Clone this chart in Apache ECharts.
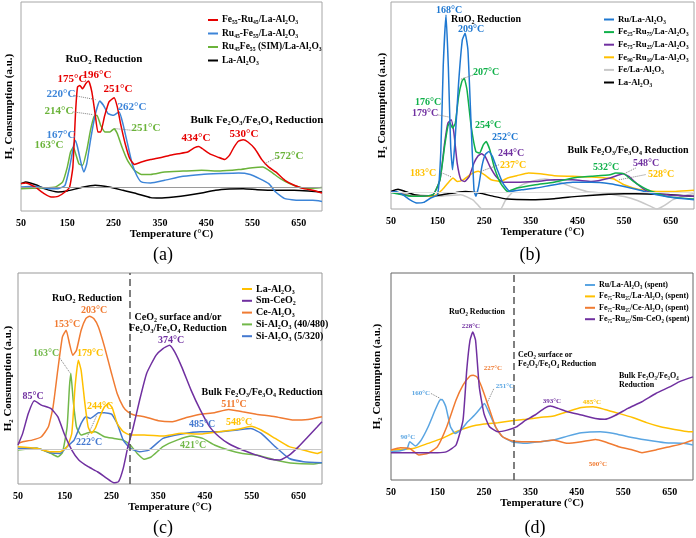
<!DOCTYPE html>
<html>
<head>
<meta charset="utf-8">
<script src="https://cdn.jsdelivr.net/npm/echarts@6/dist/echarts.min.js"></script>
<style>
html, body { margin: 0; padding: 0; background: #fff; }
#main { width: 696px; height: 538px; }
</style>
</head>
<body>
<div id="main"></div>
<script>
// tick labels (same on all four panels)
var tempTicks = [50, 150, 250, 350, 450, 550, 650];

// ---- panel (a) ----
var aFeRu = [[50,13.1],[60,13.4],[80,11.5],[100,8.3],[115,6.7],[130,7.0],[145,9.1],[155,11.5],[162,21],[168,48],[172,59.3],[177,60.1],[183,58.5],[190,61],[196,62.2],[203,57],[210,46.6],[216,37.8],[222,37.8],[230,45],[240,52.2],[251,54.2],[258,49.8],[265,41.8],[275,32.2],[285,25],[295,22.3],[310,23.4],[330,24.6],[350,25.5],[370,26.6],[390,27.4],[410,28.2],[425,30.3],[434,30.9],[445,29.3],[460,27.1],[475,25.8],[490,24.6],[500,26.6],[510,30.6],[520,33.5],[530,34.1],[540,33],[555,29.8],[570,24.6],[585,21],[600,18.7],[620,14.7],[640,12.3],[660,10.7],[680,9.9],[700,8.6]];
var aRuFe = [[50,11.5],[80,11.8],[110,10.7],[130,10.7],[145,12.3],[155,21],[163,30.6],[167,33.8],[172,30.6],[180,22.6],[186,18.7],[192,22.6],[200,33.8],[210,45.8],[220,52.6],[228,50.6],[238,46.6],[250,45.8],[262,47.4],[270,41.8],[280,32.2],[290,22.6],[300,17],[310,13.9],[330,13.4],[360,14.7],[400,16.6],[440,17.5],[480,17.9],[520,18.2],[545,17.5],[565,15.5],[585,13.1],[600,9.1],[620,5.9],[650,5.1],[680,5.1],[700,4.6]];
var aSim = [[50,10.7],[100,11],[125,11.5],[140,13.9],[150,21],[157,28.2],[163,30.6],[168,27.4],[175,22.6],[183,21.9],[192,29],[200,38.6],[208,45.3],[214,45.8],[222,41],[232,37.8],[242,37.8],[251,39.4],[258,37],[268,30.6],[280,24.2],[295,19.5],[310,17.5],[330,17.5],[360,18.7],[400,19.1],[440,19.5],[480,19.1],[520,19.8],[550,20.7],[572,21],[590,18.7],[610,15.5],[630,13.1],[650,11.5],[670,10.7],[700,11.2]];
var aLa = [[50,13.1],[60,13.9],[70,13.4],[85,12.3],[100,10.7],[130,9.1],[150,9.6],[180,11.2],[210,12.3],[240,11.5],[270,9.9],[300,8.3],[330,6.4],[350,6.2],[380,6.7],[410,7.5],[440,8.6],[470,9.9],[500,10.5],[530,10.7],[560,10.2],[600,9.9],[640,9.9],[670,9.6],[700,9.1]];
var aBase = 11.2;

// ---- panel (b) ----
var bRu = [[50,8],[60,8.5],[75,6.9],[90,4.5],[105,2.9],[120,3.2],[135,5.3],[150,6.9],[157,28.6],[162,68.8],[168,93.7],[173,68.8],[178,30.2],[182,19],[187,31.8],[195,60.8],[203,81.7],[209,84.9],[215,76.8],[222,39.9],[228,9.3],[232,6.1],[238,10.9],[245,20.6],[252,26.2],[260,27.8],[268,25.2],[278,19],[290,12.5],[305,8.5],[330,9.3],[360,10.1],[400,11.7],[440,12.9],[480,12.9],[520,12.2],[550,10.9],[580,9.3],[620,6.9],[660,5.3],[700,4.5]];
var bFe25 = [[50,8],[100,6.1],[140,6.9],[155,14.1],[165,30.2],[172,39.9],[176,41.8],[182,39.1],[188,41.5],[195,54.3],[202,61.6],[207,63.2],[213,57.6],[222,39.9],[232,27.8],[240,27],[248,31],[254,32.6],[262,28.6],[272,19.8],[285,12.5],[300,8.5],[320,10.1],[360,11.7],[400,12.9],[440,15],[480,15.8],[520,16.6],[532,17.4],[550,17],[570,13.3],[600,9.3],[640,6.1],[700,4.8]];
var bFe75 = [[50,8.5],[100,6.1],[140,6.9],[155,14.1],[165,31.8],[172,41.5],[179,43.1],[185,36.7],[192,22.2],[200,14.1],[208,13.3],[218,15.8],[228,22.2],[237,25.7],[244,26.7],[252,25.4],[262,20.6],[275,15.8],[290,12.9],[320,12.9],[360,13.3],[400,14.1],[440,14.1],[480,13.3],[520,15],[548,17],[560,15.8],[580,11.7],[600,8.5],[640,6.9],[700,6.1]];
var bFe90 = [[50,8.5],[100,6.1],[140,6.1],[160,9.3],[175,13.3],[183,15],[192,13.3],[205,14.1],[220,16.6],[237,18.2],[250,16.6],[265,14.1],[285,13.3],[300,15],[320,16.1],[345,17.4],[370,17],[400,16.1],[440,15.8],[480,15.4],[510,15],[528,14.5],[550,11.7],[580,9.6],[620,8.5],[660,8.5],[700,9]];
var bFe = [[50,8],[100,7],[150,6.1],[200,6.9],[225,4.5],[238,1.5],[245,0],[285,0],[295,4],[310,8],[330,11.5],[355,13.5],[380,14.5],[410,13],[440,10.5],[470,8.5],[510,7.5],[550,6],[580,4],[605,1.5],[620,0],[635,1.5],[655,4.5],[680,6.5],[700,7.5]];
var bLa = [[50,8.5],[65,9.6],[80,8.5],[100,6.9],[130,6.1],[160,6.9],[190,8],[210,8.5],[240,7.7],[270,6.1],[300,4.8],[350,4.5],[400,5],[450,6.1],[500,6.9],[550,7.4],[600,7.2],[650,6.9],[700,6.1]];
var bBase = 8;

// ---- panel (c) ----
var cLa = [[50,17.7],[90,16.9],[120,15.3],[140,15.3],[155,17.7],[165,24],[172,46.1],[179,58.7],[185,53.9],[193,38.2],[200,27.1],[207,24],[215,26.3],[225,31.9],[235,36.6],[244,38.2],[252,35.8],[262,28.7],[275,24.8],[290,23.2],[320,23.2],[360,22.7],[400,24],[440,23.7],[480,24.8],[520,25.9],[548,27.4],[570,25.6],[600,21.6],[630,17.7],[660,16.1],[690,14.5],[700,15.3]];
var cSm = [[50,18.5],[60,24],[72,33.4],[85,39.4],[100,37.4],[120,35.8],[135,31.9],[150,23.2],[165,16.1],[180,11.4],[200,8.2],[220,5.8],[240,2.7],[255,0.6],[265,1.1],[275,7.4],[285,17.7],[295,25.6],[310,39.7],[325,52.4],[345,61],[360,64.2],[374,65.8],[385,62.6],[400,55.5],[420,44.5],[440,35],[460,27.1],[480,22.4],[500,19.2],[530,16.1],[560,13.7],[590,11.7],[610,11.4],[630,13.7],[650,17.7],[670,22.4],[690,27.1],[700,29.5]];
var cCe = [[50,19.2],[60,20],[80,20.8],[100,22.4],[115,27.1],[125,36.6],[135,53.9],[145,69.7],[153,72.9],[160,66.6],[167,61],[175,63.4],[185,72.9],[195,78.4],[203,79.5],[212,78.4],[222,74.4],[235,65],[250,52.4],[262,42.9],[275,36.6],[285,34.2],[300,32.6],[320,31.9],[350,30],[380,29.5],[410,31.5],[440,33.1],[470,33.8],[500,35.3],[511,35],[530,34.2],[560,33.1],[600,31.9],[640,30.3],[670,30.6],[700,31.9]];
var cSi40 = [[50,16.1],[90,16.9],[120,14.5],[135,12.9],[145,14.8],[155,27.1],[160,46.1],[163,52.4],[168,39.7],[175,27.1],[185,23.2],[200,24.3],[215,24.8],[235,22.4],[255,21.6],[275,20.8],[290,18.5],[305,14.5],[320,11.7],[335,12.9],[360,17.7],[390,20.8],[421,22.7],[445,21.6],[470,18.5],[500,16.1],[530,14.5],[560,13.7],[600,11.4],[640,9.8],[680,9.5],[700,10.1]];
var cSi5 = [[50,16.9],[90,16.9],[120,14.8],[140,14.5],[155,17.7],[170,20.8],[185,28.7],[195,31.9],[205,31.1],[215,32.6],[222,33.8],[235,33.8],[250,33.1],[262,28.7],[275,20.8],[290,16.9],[310,15.3],[330,16.1],[360,21.6],[400,23.7],[440,24.8],[485,24.8],[520,25.6],[548,26.3],[570,24],[600,17.7],[630,12.1],[660,10.6],[700,10.1]];
var cBase = 16.6;
var cDivider = 290;

// ---- panel (d) ----
var dRu = [[50,13.7],[70,14.1],[85,15.3],[90,18.5],[95,17.7],[103,16.4],[115,19.3],[130,25.7],[145,33.8],[155,38.6],[160,38.9],[168,35.4],[178,25.7],[188,22.5],[200,24.1],[215,28.1],[230,31.4],[245,35.4],[251,37],[260,33],[275,25.7],[290,20.9],[310,18.5],[340,17.7],[370,18.5],[400,19.3],[430,21.2],[460,22.8],[500,23.3],[530,22.5],[560,20.9],[600,19.3],[640,18],[680,17.7],[700,16.9]];
var dLa = [[50,14.5],[80,14.8],[100,15.3],[130,17.7],[160,20.1],[190,23.3],[220,25.7],[250,27],[280,27.7],[310,28.6],[340,29.3],[370,30.2],[400,30.9],[430,33],[460,35],[485,35.4],[510,34.1],[540,32.2],[570,30.2],[600,27.7],[630,25.7],[660,24.4],[690,23.3],[700,23.3]];
var dCe = [[50,14.5],[70,15.6],[90,15.3],[110,12.1],[130,12.9],[150,16.1],[170,25.7],[190,38.6],[205,45.8],[220,50.2],[227,50.6],[235,49.8],[245,45],[260,35.4],[275,25.7],[290,20.9],[310,19],[340,18.5],[370,18.5],[400,19.3],[430,17.7],[460,18.5],[490,19.6],[510,18.5],[540,16.1],[570,14.5],[590,13.2],[620,14.5],[650,16.1],[680,17.7],[700,19.3]];
var dSm = [[50,13.2],[100,13.2],[150,13.2],[170,13.7],[190,16.9],[205,28.9],[213,53.1],[220,67.5],[226,71.5],[232,67.5],[240,45],[250,32.2],[262,25.7],[280,23.3],[300,24.1],[320,25.7],[340,28.9],[360,31.4],[380,34.6],[393,35.7],[410,34.6],[430,33],[460,31.4],[490,29.7],[510,29.3],[530,30.9],[560,34.6],[590,37.8],[620,41.8],[650,45],[670,47.4],[700,49.8]];
var dDivider = 314;

var SERIF = '"Liberation Serif", "DejaVu Serif", serif';

var grids = [
    { left: 21, top: 2, width: 301, height: 209 },
    { left: 391, top: 2, width: 303, height: 207 },
    { left: 18, top: 273, width: 304, height: 211 },
    { left: 391, top: 273, width: 302, height: 207 }
];
var frameColors = ['#a6a6a6', '#a6a6a6', '#999999', '#666666'];
var yNameGap = [6, 3, 4, 8];

var xAxes = [], yAxes = [];
grids.forEach(function (g, i) {
    g.show = true;
    g.borderColor = frameColors[i];
    g.borderWidth = 1;
    g.backgroundColor = 'transparent';
    xAxes.push({
        type: 'value', gridIndex: i, min: 50, max: 700,
        name: 'Temperature (°C)', nameLocation: 'middle', nameGap: 17,
        nameTextStyle: { fontFamily: SERIF, fontWeight: 'bold', fontSize: 11, color: '#000' },
        axisLine: { show: false }, axisTick: { show: false }, splitLine: { show: false },
        axisLabel: { customValues: tempTicks, fontFamily: SERIF, fontWeight: 'bold', fontSize: 10, color: '#000', margin: 7 }
    });
    yAxes.push({
        type: 'value', gridIndex: i, min: 0, max: 100,
        name: 'H₂ Consumption (a.u.)', nameLocation: 'middle', nameGap: yNameGap[i],
        nameTextStyle: { fontFamily: SERIF, fontWeight: 'bold', fontSize: 11, color: '#000' },
        axisLine: { show: false }, axisTick: { show: false }, splitLine: { show: false },
        axisLabel: { show: false }
    });
});

function line(name, gi, data, color, extra) {
    var s = {
        name: name, type: 'line', xAxisIndex: gi, yAxisIndex: gi,
        data: data, showSymbol: false, symbol: 'none', smooth: 0.15,
        lineStyle: { color: color, width: 1.5 }, itemStyle: { color: color },
        animation: false, z: 3
    };
    if (extra) { for (var k in extra) s[k] = extra[k]; }
    return s;
}

// dotted leader lines in data coordinates
function leaders(list) {
    return {
        silent: true, symbol: ['none', 'none'], label: { show: false },
        lineStyle: { color: '#7f7f7f', type: 'dotted', width: 1 },
        data: list.map(function (p) { return [{ coord: [p[0], p[1]] }, { coord: [p[2], p[3]] }]; })
    };
}
function hline(v, color) {
    return { silent: true, symbol: ['none', 'none'], label: { show: false },
        lineStyle: { color: color, type: 'solid', width: 1 }, data: [{ yAxis: v }] };
}
function vline(v) {
    return { silent: true, symbol: ['none', 'none'], label: { show: false },
        lineStyle: { color: '#555', type: [7, 4], width: 1.5 }, data: [{ xAxis: v }] };
}

var RED = '#e60000', BLUE_A = '#3d85d8', GREEN_A = '#6bb33a';
var BLUE_B = '#1f78d1', GREEN_B = '#10b04a', PURPLE = '#7030a0', YELLOW = '#ffc000', LGRAY = '#c8c8c8';
var ORANGE = '#f07b32', BLUE_C = '#4479d0', GREEN_C = '#72b84a', BLUE_D = '#5aa5e2';

var series = [
    line('a:La-Al₂O₃', 0, aLa, '#000', { markLine: hline(aBase, '#9a9a9a') }),
    line('a:Ru₄₅Fe₅₅ (SIM)/La-Al₂O₃', 0, aSim, GREEN_A, { markLine: leaders([[163, 47.4, 206, 46.1], [254, 39.4, 290, 38.6], [576, 22.6, 604, 25.8]]) }),
    line('a:Ru₄₅-Fe₅₅/La-Al₂O₃', 0, aRuFe, BLUE_A, { markLine: leaders([[163, 55.3, 211, 53.3]]) }),
    line('a:Fe₅₅-Ru₄₅/La-Al₂O₃', 0, aFeRu, RED),

    line('b:Fe/La-Al₂O₃', 1, bFe, LGRAY, { markLine: hline(bBase, '#e0e0e0') }),
    line('b:La-Al₂O₃', 1, bLa, '#000'),
    line('b:Fe₉₀-Ru₁₀/La-Al₂O₃', 1, bFe90, YELLOW, { markLine: leaders([[157, 17.7, 180, 15.4], [243, 18.2, 282, 21.4], [539, 14.1, 596, 16.6]]) }),
    line('b:Fe₇₅-Ru₂₅/La-Al₂O₃', 1, bFe75, PURPLE, { markLine: leaders([[150, 45.5, 175, 44.4], [550, 17, 575, 19.8]]) }),
    line('b:Fe₂₅-Ru₇₅/La-Al₂O₃', 1, bFe25, GREEN_B, { markLine: leaders([[200, 62.7, 227, 64.8]]) }),
    line('b:Ru/La-Al₂O₃', 1, bRu, BLUE_B),

    line('c:Si-Al₂O₃ (40/480)', 2, cSi40, GREEN_C, { markLine: leaders([[140, 59.5, 162, 52.4]]) }),
    line('c:Si-Al₂O₃ (5/320)', 2, cSi5, BLUE_C, { markLine: leaders([[198, 22.4, 218, 32.3]]) }),
    line('c:La-Al₂O₃', 2, cLa, YELLOW, { markLine: hline(cBase, '#c8c8c8') }),
    line('c:Ce-Al₂O₃', 2, cCe, ORANGE),
    line('c:Sm-CeO₂', 2, cSm, PURPLE, { markLine: vline(cDivider) }),

    line('d:Fe₇₅-Ru₂₅/La-Al₂O₃ (spent)', 3, dLa, YELLOW),
    line('d:Ru/La-Al₂O₃ (spent)', 3, dRu, BLUE_D, { markLine: leaders([[136, 41.8, 156, 39.4], [271, 44, 257, 37.3]]) }),
    line('d:Fe₇₅-Ru₂₅/Ce-Al₂O₃ (spent)', 3, dCe, ORANGE),
    line('d:Fe₇₅-Ru₂₅/Sm-CeO₂ (spent)', 3, dSm, PURPLE, { markLine: vline(dDivider) })
];

function legend(left, top, names, fontSize, gap) {
    return {
        orient: 'vertical', left: left, top: top, icon: 'rect',
        itemWidth: 10, itemHeight: 2, itemGap: gap, selectedMode: false,
        data: names,
        formatter: function (n) { return n.slice(2); },
        textStyle: { fontFamily: SERIF, fontWeight: 'bold', fontSize: fontSize, color: '#000', padding: [0, 0, 0, -1] }
    };
}

var legends = [
    legend(203, 10, ['a:Fe₅₅-Ru₄₅/La-Al₂O₃', 'a:Ru₄₅-Fe₅₅/La-Al₂O₃', 'a:Ru₄₅Fe₅₅ (SIM)/La-Al₂O₃', 'a:La-Al₂O₃'], 9.5, 3.5),
    legend(599, 10, ['b:Ru/La-Al₂O₃', 'b:Fe₂₅-Ru₇₅/La-Al₂O₃', 'b:Fe₇₅-Ru₂₅/La-Al₂O₃', 'b:Fe₉₀-Ru₁₀/La-Al₂O₃', 'b:Fe/La-Al₂O₃', 'b:La-Al₂O₃'], 8.8, 3.6),
    legend(237, 279, ['c:La-Al₂O₃', 'c:Sm-CeO₂', 'c:Ce-Al₂O₃', 'c:Si-Al₂O₃ (40/480)', 'c:Si-Al₂O₃ (5/320)'], 10, 1.8),
    legend(580, 276, ['d:Ru/La-Al₂O₃ (spent)', 'd:Fe₇₅-Ru₂₅/La-Al₂O₃ (spent)', 'd:Fe₇₅-Ru₂₅/Ce-Al₂O₃ (spent)', 'd:Fe₇₅-Ru₂₅/Sm-CeO₂ (spent)'], 8, 3.4)
];

// text annotations: [text, x, y, colour, size, align]
var notes = [
    ['RuO₂ Reduction', 104, 59, '#000', 11], ['175°C', 72, 79, RED, 11], ['196°C', 97, 75, RED, 11],
    ['251°C', 118, 89, RED, 11], ['220°C', 61, 94, BLUE_A, 11], ['262°C', 132, 107, BLUE_A, 11],
    ['214°C', 59, 111, GREEN_A, 11], ['251°C', 146, 128, GREEN_A, 11], ['167°C', 61, 135, BLUE_A, 11],
    ['163°C', 49, 145, GREEN_A, 11], ['Bulk Fe₂O₃/Fe₃O₄ Reduction', 257, 120, '#000', 11],
    ['434°C', 196, 138, RED, 11], ['530°C', 244, 134, RED, 11], ['572°C', 289, 156, GREEN_A, 11],

    ['168°C', 449, 10, BLUE_B, 10], ['RuO₂ Reduction', 486, 19, '#000', 10], ['209°C', 471, 29, BLUE_B, 10],
    ['207°C', 486, 72, GREEN_B, 10], ['176°C', 428, 102, GREEN_B, 10], ['179°C', 425, 113, PURPLE, 10],
    ['254°C', 488, 125, GREEN_B, 10], ['252°C', 505, 137, BLUE_B, 10], ['244°C', 511, 153, PURPLE, 10],
    ['237°C', 513, 165, YELLOW, 10], ['183°C', 423, 173, YELLOW, 10],
    ['Bulk Fe₂O₃/Fe₃O₄ Reduction', 628, 150, '#000', 10], ['532°C', 606, 167, GREEN_B, 10],
    ['548°C', 646, 163, PURPLE, 10], ['528°C', 661, 174, YELLOW, 10],

    ['RuO₂ Reduction', 87, 298, '#000', 10], ['203°C', 94, 310, ORANGE, 10], ['153°C', 67, 324, ORANGE, 10],
    ['179°C', 90, 353, YELLOW, 10], ['163°C', 46, 353, GREEN_C, 10], ['85°C', 33, 396, PURPLE, 10],
    ['244°C', 100, 406, YELLOW, 10], ['222°C', 89, 442, BLUE_C, 10],
    ['CeO₂ surface and/or', 178, 317, '#000', 10], ['Fe₂O₃/Fe₃O₄ Reduction', 178, 328, '#000', 10],
    ['374°C', 171, 340, PURPLE, 10], ['Bulk Fe₂O₃/Fe₃O₄ Reduction', 262, 392, '#000', 10],
    ['511°C', 234, 404, ORANGE, 10], ['485°C', 202, 424, BLUE_C, 10], ['548°C', 239, 422, YELLOW, 10],
    ['421°C', 193, 445, GREEN_C, 10],

    ['RuO₂ Reduction', 477, 312, '#000', 8], ['228°C', 471, 326, PURPLE, 7], ['227°C', 493, 368, ORANGE, 7],
    ['251°C', 505, 386, BLUE_D, 7], ['160°C', 421, 393, BLUE_D, 7], ['90°C', 408, 437, BLUE_D, 7],
    ['CeO₂ surface or', 518, 355, '#000', 8, 'left'], ['Fe₂O₃/Fe₃O₄ Reduction', 518, 364, '#000', 8, 'left'],
    ['Bulk Fe₂O₃/Fe₃O₄', 619, 376, '#000', 8, 'left'], ['Reduction', 619, 385, '#000', 8, 'left'],
    ['393°C', 552, 401, PURPLE, 7], ['485°C', 592, 402, YELLOW, 7], ['500°C', 598, 464, ORANGE, 7],

    ['(a)', 163, 255, '#000', 18, 'center', 'normal'], ['(b)', 530, 255, '#000', 18, 'center', 'normal'],
    ['(c)', 163, 528, '#000', 18, 'center', 'normal'], ['(d)', 535, 528, '#000', 18, 'center', 'normal']
];

var graphic = notes.map(function (n) {
    return {
        type: 'text', x: n[1], y: n[2], z: 10, silent: true,
        style: {
            text: n[0], fill: n[3], fontSize: n[4], fontFamily: SERIF,
            fontWeight: n[6] || 'bold', align: n[5] || 'center', verticalAlign: 'middle'
        }
    };
});

var myChart = echarts.init(document.getElementById('main'));
var option = {
    backgroundColor: '#fff',
    animation: false,
    grid: grids,
    xAxis: xAxes,
    yAxis: yAxes,
    legend: legends,
    series: series,
    graphic: graphic
};
myChart.setOption(option);
</script>
</body>
</html>
